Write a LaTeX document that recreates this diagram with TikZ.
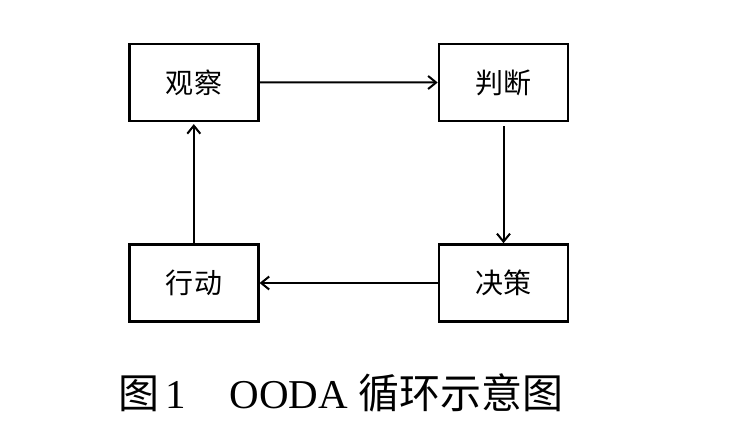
\documentclass[tikz,border=0pt]{standalone}
\usepackage{fontspec}
\setmainfont{Liberation Serif}
\newfontfamily\cjk{Noto Sans CJK SC}
\usetikzlibrary{arrows.meta}
\tikzset{
  stagebox/.style={draw=black, line width=2.6pt, minimum width=129pt, minimum height=77pt, inner sep=0pt, font=\cjk\fontsize{28}{32}\selectfont},
  flow/.style={line width=2pt, -{Straight Barb[length=8pt, width=13pt, line width=2pt]}},
  caption/.style={inner sep=0pt, font=\fontsize{41}{47}\selectfont}
}
\begin{document}
\begin{tikzpicture}[x=1pt, y=-1pt]
  \useasboundingbox[fill=white] (0,0) rectangle (738,431);
  \node[stagebox] (obs) at (193.8,82.3) {\raisebox{-2pt}{观\hspace{1pt}察}};
  \node[stagebox] (ori) at (503.5,82.5) {\raisebox{-2pt}{判\hspace{1pt}断}};
  \node[stagebox] (dec) at (503.5,283) {\raisebox{-2pt}{决\hspace{1pt}策}};
  \node[stagebox] (act) at (193.8,283) {\raisebox{-2pt}{行\hspace{1pt}动}};
  \draw[flow] (obs.east) -- (ori.west);
  \draw[flow, shorten <=4pt] (ori.south) -- (dec.north);
  \draw[flow] (dec.west) -- (act.east);
  \draw[flow, shorten >=2pt] (act.north) -- (obs.south);
  \node[caption, anchor=west] (cap) at (118,393) {{\cjk 图}\hspace{6pt}1\hspace{44pt}OODA {\cjk 循环示意图}};
\end{tikzpicture}
\end{document}
